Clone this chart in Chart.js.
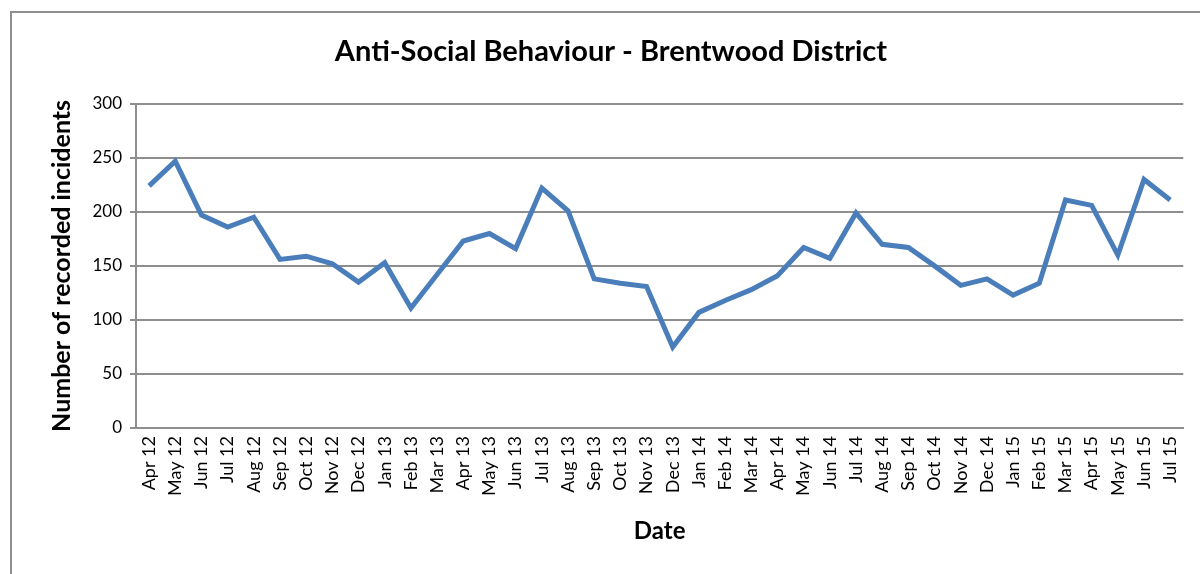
<!DOCTYPE html>
<html>
<head>
<meta charset="utf-8">
<script src="https://cdn.jsdelivr.net/npm/chart.js@4"></script>
<style>
  html, body { margin: 0; padding: 0; background: #fff; overflow: hidden; }
  #frame { position: absolute; left: 10px; top: 11px; width: 1250px; height: 620px; border: 2px solid #8e8e8e; }
  #wrap { position: absolute; left: 0; top: 0; width: 1200px; height: 574px; }
</style>
</head>
<body>
<div id="frame"></div>
<div id="wrap"><canvas id="asbChart" width="1200" height="574"></canvas></div>
<script>
// Monthly data
const months = ['Apr 12', 'May 12', 'Jun 12', 'Jul 12', 'Aug 12', 'Sep 12', 'Oct 12', 'Nov 12', 'Dec 12',
    'Jan 13', 'Feb 13', 'Mar 13', 'Apr 13', 'May 13', 'Jun 13', 'Jul 13', 'Aug 13', 'Sep 13', 'Oct 13', 'Nov 13', 'Dec 13',
    'Jan 14', 'Feb 14', 'Mar 14', 'Apr 14', 'May 14', 'Jun 14', 'Jul 14', 'Aug 14', 'Sep 14', 'Oct 14', 'Nov 14', 'Dec 14',
    'Jan 15', 'Feb 15', 'Mar 15', 'Apr 15', 'May 15', 'Jun 15', 'Jul 15'];
const incidents = [224, 247, 197, 186, 195, 156, 159, 152, 135,
    153, 111, 142, 173, 180, 166, 222, 201, 138, 134, 131, 75,
    107, 118, 128, 141, 167, 157, 199, 170, 167, 150, 132, 138,
    123, 134, 211, 206, 160, 230, 211];
const yMin = 0;
const yMax = 300;
const yStep = 50;

const gridGrey = '#8e8e8e';
const font = 'Lato, Calibri, "Open Sans", sans-serif';

const ctx = document.getElementById('asbChart').getContext('2d');
new Chart(ctx, {
    type: 'line',
    data: {
        labels: months,
        datasets: [{
            label: 'Incidents',
            data: incidents,
            borderColor: '#4a7ebb',
            borderWidth: 5,
            pointRadius: 0,
            tension: 0,
            fill: false
        }]
    },
    options: {
        responsive: false,
        animation: false,
        layout: { padding: { left: 38, right: 16, top: 0, bottom: 28 } },
        plugins: {
            legend: { display: false },
            tooltip: { enabled: false },
            title: {
                display: true,
                text: 'Anti-Social Behaviour - Brentwood District',
                color: '#000',
                font: { family: font, size: 29, weight: 'bold' },
                padding: { top: 34, bottom: 35 }
            }
        },
        scales: {
            x: {
                offset: true,
                afterFit: function (scale) { scale.height = 118; },
                grid: { display: false, drawTicks: false },
                border: { display: true, color: gridGrey, width: 2 },
                ticks: {
                    color: '#000',
                    font: { family: font, size: 18 },
                    minRotation: 90,
                    maxRotation: 90,
                    autoSkip: false,
                    padding: 8
                },
                title: {
                    display: true,
                    text: 'Date',
                    color: '#000',
                    font: { family: font, size: 24, weight: 'bold' },
                    padding: { top: 4, bottom: 0 }
                }
            },
            y: {
                min: yMin,
                max: yMax,
                afterFit: function (scale) { scale.width = 98; },
                grid: { color: gridGrey, lineWidth: 2, tickLength: 6, drawTicks: true },
                border: { display: true, color: gridGrey, width: 2 },
                ticks: {
                    stepSize: yStep,
                    color: '#000',
                    font: { family: font, size: 17 },
                    padding: 8
                },
                title: {
                    display: true,
                    text: 'Number of recorded incidents',
                    color: '#000',
                    font: { family: font, size: 25, weight: 'bold' },
                    padding: { top: 9, bottom: 0 }
                }
            }
        }
    }
});
</script>
</body>
</html>
